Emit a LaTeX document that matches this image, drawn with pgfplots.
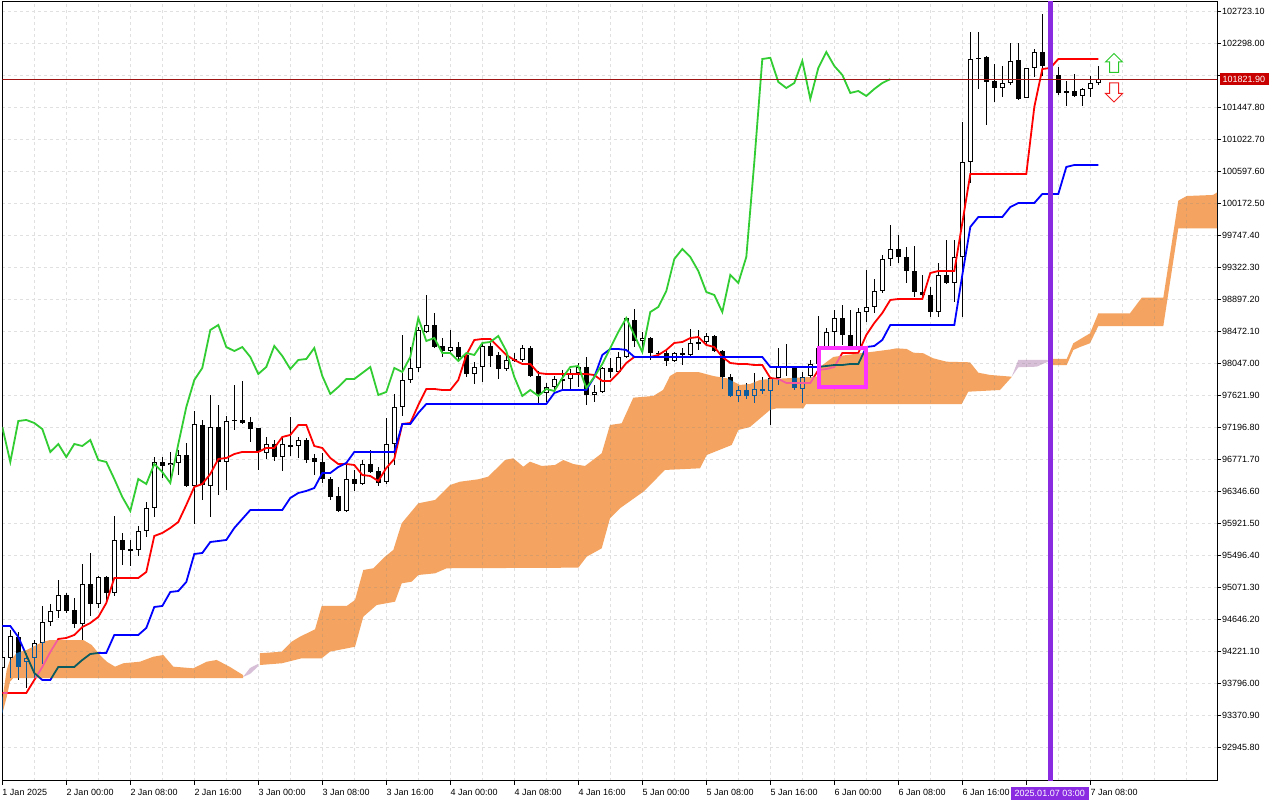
\documentclass[border=0pt]{standalone}
\usepackage{fontspec}
\setmainfont{Liberation Sans}
\usepackage{pgfplots}
\pgfplotsset{compat=1.18}
\usepackage{pgfplotstable}

\definecolor{tenkan}{RGB}{255,0,0}
\definecolor{kijun}{RGB}{0,0,255}
\definecolor{chikou}{RGB}{50,205,50}
\definecolor{cloudA}{RGB}{11,91,159}
\definecolor{cloudB}{RGB}{39,64,39}
\definecolor{mfuchsia}{RGB}{255,51,255}
\definecolor{vline}{RGB}{138,43,226}
\definecolor{gridc}{RGB}{224,224,224}
\definecolor{pricebox}{RGB}{200,0,0}
\definecolor{pricel}{RGB}{160,20,20}
\definecolor{arrowg}{RGB}{40,200,40}
\definecolor{arrowr}{RGB}{240,30,30}

% H1 candles, i = bar index (0 = 1 Jan 2025 16:00)
\pgfplotstableread{
i o h l c
0 93999 94238 93946 94145
1 94132 94504 93866 94424
2 94411 94478 93840 94013
3 94079 94199 93734 94132
4 94132 94371 93866 94331
5 94331 94823 94052 94610
6 94610 94849 94557 94756
7 94756 95168 94664 94969
8 94969 94996 94730 94756
9 94770 94929 94531 94584
10 94584 95381 94371 95115
11 95115 95527 94690 94849
12 94849 95221 94796 95208
13 95208 95221 94903 94996
14 94996 96019 94956 95700
15 95700 95793 95368 95567
16 95580 95700 95354 95567
17 95567 95886 95487 95819
18 95819 96204 95740 96125
19 96125 96802 96005 96736
20 96736 96802 96523 96683
21 96696 96869 96444 96723
22 96723 96895 96563 96829
23 96829 96988 96404 96417
24 96417 97413 95912 97241
25 97227 97294 96231 96430
26 96417 97626 96005 97201
27 97201 97493 96297 96736
28 96736 97347 96364 97280
29 97280 97759 97161 97294
30 97294 97812 97241 97254
31 97267 97334 97001 97174
32 97187 97190 96630 96869
33 96855 97068 96776 96975
34 96975 97028 96749 96802
35 96802 97055 96616 96975
36 96962 97334 96816 96948
37 96948 97068 96789 97028
38 97028 97055 96723 96762
39 96789 96842 96563 96736
40 96736 96855 96457 96510
41 96510 96537 96231 96271
42 96284 96404 96072 96085
43 96085 96696 96072 96510
44 96510 96630 96351 96444
45 96444 96762 96430 96709
46 96709 96895 96590 96603
47 96616 96669 96417 96457
48 96470 97320 96444 96975
49 96975 97639 96696 97466
50 97466 98423 97347 97825
51 97825 98263 97785 97985
52 97985 98529 97931 98489
53 98463 98954 98449 98556
54 98556 98715 98250 98263
55 98277 98383 98131 98210
56 98210 98489 98197 98263
57 98263 98330 98091 98131
58 98157 98197 97865 97905
59 97905 98064 97772 97998
60 97998 98317 97799 98277
61 98277 98330 97998 98144
62 98157 98197 97838 97971
63 97971 98184 97945 98091
64 98091 98184 98064 98104
65 98091 98290 98064 98250
66 98250 98277 97865 97878
67 97878 97945 97520 97639
68 97652 97785 97533 97732
69 97732 97878 97692 97838
70 97825 97958 97706 97838
71 97838 97971 97692 97918
72 97918 98051 97732 97998
73 97998 98131 97493 97626
74 97626 97759 97533 97666
75 97666 97998 97652 97985
76 97985 98117 97852 97931
77 97931 98197 97905 98131
78 98131 98662 98117 98649
79 98622 98768 98263 98343
80 98343 98463 98250 98383
81 98383 98396 98091 98184
82 98184 98210 98157 98184
83 98184 98224 98011 98078
84 98078 98197 98064 98184
85 98184 98250 98024 98157
86 98157 98503 98144 98317
87 98317 98489 98224 98330
88 98330 98449 98303 98410
89 98410 98423 98197 98210
90 98210 98224 97706 97865
91 97865 97905 97599 97613
92 97613 97745 97533 97692
93 97692 97785 97573 97613
94 97613 97918 97520 97706
95 97706 97865 97639 97679
96 97679 97865 97227 97852
97 97852 98250 97759 97998
98 97998 98303 97878 98011
99 97985 98011 97692 97719
100 97706 97931 97520 97865
101 97878 98091 97852 98038
102 98038 98675 97719 98250
103 98250 98516 98197 98463
104 98463 98755 98263 98649
105 98649 98821 98290 98423
106 98423 98755 98144 98197
107 98197 98782 97865 98728
108 98728 99286 98596 98795
109 98795 99167 98715 99007
110 99007 99486 98981 99432
111 99432 99884 99340 99565
112 99565 99751 99379 99459
113 99459 99592 99114 99273
114 99273 99605 98928 98994
115 98994 99220 98914 98954
116 98954 99061 98662 98728
117 98728 99379 98662 99220
118 99220 99685 99100 99114
119 99114 99685 98861 99459
120 99459 101252 98662 100721
121 100721 102448 100442 102089
122 102100 102448 101691 102105
123 102116 102129 101212 101784
124 101797 102023 101518 101704
125 101704 101996 101584 101770
126 101770 102302 101744 102063
127 102076 102302 101545 101558
128 101571 101975 101565 101970
129 101970 102222 101850 102182
130 102182 102687 101863 101996
131 101996 102142 101837 101877
132 101877 101983 101611 101638
133 101638 101797 101465 101664
134 101664 101890 101584 101598
135 101598 101704 101465 101691
136 101691 101863 101584 101770
137 101770 101996 101744 101821.9
}\candles

% Tenkan-sen (t) and Kijun-sen (k)
\pgfplotstableread{
i t k
0 93667 94557
1 93667 94557
2 93667 94411
3 93667 94172
4 93840 93933
5 94013 93840
6 94212 93840
7 94385 94013
8 94398 94013
9 94438 94013
10 94544 94106
11 94597 94185
12 94677 94199
13 94863 94199
14 95195 94438
15 95195 94438
16 95195 94438
17 95195 94438
18 95275 94531
19 95753 94810
20 95793 94823
21 95859 95009
22 95939 95022
23 96165 95142
24 96404 95514
25 96444 95527
26 96576 95673
27 96776 95686
28 96789 95700
29 96842 95859
30 96869 95979
31 96869 96098
32 96869 96098
33 96922 96098
34 96922 96098
35 97068 96098
36 97095 96258
37 97227 96324
38 97227 96351
39 96948 96390
40 96922 96590
41 96789 96590
42 96709 96669
43 96709 96723
44 96696 96869
45 96563 96869
46 96550 96869
47 96483 96869
48 96656 96869
49 96776 96869
50 97241 97241
51 97254 97241
52 97493 97387
53 97706 97506
54 97706 97506
55 97692 97506
56 97692 97506
57 97825 97506
58 98157 97506
59 98356 97506
60 98370 97506
61 98370 97506
62 98263 97506
63 98157 97506
64 98091 97506
65 98038 97506
66 98038 97506
67 97918 97506
68 97905 97506
69 97905 97652
70 97905 97692
71 97905 97692
72 97905 97692
73 97905 97692
74 97891 97865
75 97812 98157
76 97812 98237
77 97918 98237
78 98051 98224
79 98131 98131
80 98131 98131
81 98131 98131
82 98157 98131
83 98224 98131
84 98317 98131
85 98330 98131
86 98383 98131
87 98396 98131
88 98290 98131
89 98263 98131
90 98131 98131
91 98051 98131
92 98038 98131
93 98038 98131
94 98024 98131
95 98024 98131
96 97852 97998
97 97838 97998
98 97785 97998
99 97785 97998
100 97785 97998
101 97785 97998
102 97958 97998
103 97971 98011
104 97998 98024
105 98184 98024
106 98184 98038
107 98184 98038
108 98423 98263
109 98582 98277
110 98715 98357
111 98888 98556
112 98901 98556
113 98901 98556
114 98901 98556
115 98901 98556
116 99246 98556
117 99273 98556
118 99273 98556
119 99273 98556
120 99911 99220
121 100562 99858
122 100562 99990
123 100562 99990
124 100562 99990
125 100562 99990
126 100562 100123
127 100562 100176
128 100562 100176
129 101452 100176
130 101956 100296
131 101970 100296
132 102089 100296
133 102089 100655
134 102089 100681
135 102089 100681
136 102089 100681
137 102089 100681
}\lines

\begin{document}
\begin{tikzpicture}
\useasboundingbox (0,0) rectangle (1280pt,800pt);
\fill[white] (0,0) rectangle (1280pt,800pt);
\begin{axis}[
  at={(2.3pt,19pt)}, anchor=south west,
  scale only axis, width=1214.7pt, height=779pt,
  xmin=0, xmax=151.8375,
  ymin=92498.2, ymax=102846.4,
  enlargelimits=false,
  axis line style={black, line width=1pt},
  tick align=outside,
  major tick length=4pt,
  minor tick length=0pt,
  major tick style={black, line width=1pt},
  xtick pos=left, ytick pos=right,
  yticklabel pos=right,
  xtick={0,8,...,136},
  xticklabels={1 Jan 2025,2 Jan 00:00,2 Jan 08:00,2 Jan 16:00,3 Jan 00:00,3 Jan 08:00,3 Jan 16:00,4 Jan 00:00,4 Jan 08:00,4 Jan 16:00,5 Jan 00:00,5 Jan 08:00,5 Jan 16:00,6 Jan 00:00,6 Jan 08:00,6 Jan 16:00,{},7 Jan 08:00},
  minor xtick={4,12,...,148,144},
  ytick={92945.8,93370.9,93796.0,94221.1,94646.2,95071.3,95496.4,95921.5,96346.6,96771.7,97196.8,97621.9,98047.0,98472.1,98897.2,99322.3,99747.4,100172.5,100597.6,101022.7,101447.8,101872.9,102298.0,102723.1},
  yticklabels={92945.80,93370.90,93796.00,94221.10,94646.20,95071.30,95496.40,95921.50,96346.60,96771.70,97196.80,97621.90,98047.00,98472.10,98897.20,99322.30,99747.40,100172.50,100597.60,101022.70,101447.80,{},102298.00,102723.10},
  tick label style={font=\fontsize{9}{10}\selectfont, black},
  xticklabel style={anchor=north west, inner sep=0pt, yshift=-4pt},
  yticklabel style={anchor=west, inner sep=0pt, xshift=1pt},
  grid=both,
  major grid style={gridc, line width=1pt, dash pattern=on 3pt off 3pt},
  minor grid style={gridc, line width=1pt, dash pattern=on 3pt off 3pt},
]
% wicks
\addplot[draw=none, mark=none, forget plot,
  error bars/.cd, y dir=both, y explicit, error mark=none,
  error bar style={draw=black, solid, line width=1pt}]
  table[x=i, y expr={(\thisrow{h}+\thisrow{l})/2}, y error expr={(\thisrow{h}-\thisrow{l})/2}] {\candles};
% bodies (outline / bearish fill)
\addplot[draw=none, mark=none, forget plot,
  error bars/.cd, y dir=both, y explicit, error mark=none,
  error bar style={draw=black, solid, line width=5pt}]
  table[x=i, y expr={(\thisrow{o}+\thisrow{c})/2}, y error expr={max(abs(\thisrow{c}-\thisrow{o})/2,6.6)}] {\candles};
% bullish body interior
\addplot[draw=none, mark=none, forget plot,
  error bars/.cd, y dir=both, y explicit, error mark=none,
  error bar style={draw=white, solid, line width=3pt}]
  table[x=i, y expr={(\thisrow{o}+\thisrow{c})/2}, y error expr={max((\thisrow{c}-\thisrow{o})/2-13.3,0)}] {\candles};
% rectangle object (filled background)
\fill[white] (axis cs:102.05,97728) rectangle (axis cs:108,98250);
% Ichimoku lines
\addplot[tenkan, line width=1.8pt, mark=none] table[x=i, y=t] {\lines};
\addplot[kijun, line width=1.8pt, mark=none] table[x=i, y=k] {\lines};
\addplot[chikou, line width=1.8pt, mark=none, skip coords between index={0}{26}] table[x expr=\thisrow{i}-26, y=c] {\candles};
% Kumo (Senkou span A above B: sandy brown; B above A: thistle), drawn XOR-like
\addplot[draw=none, fill=cloudA, blend mode=exclusion] coordinates {
(-0.04,93574) (0.125,93667) (0.55,93973) (0.96,94106) (1.375,94145) (1.8,94199) (3.05,94238) (4.3,94305) (5.125,94349) (5.96,94371) (10.125,94371) (11.175,94305) (12.21,94172) (13.05,94083) (14.09,94017) (15.125,94062) (17.21,94083) (18.875,94149) (20.125,94172) (21.375,94017) (23.875,93995) (25.55,94083) (26.8,94106) (28.46,94013) (30.09,93906)
(30.09,93866) (1.375,93866) (0.96,93817) (0.55,93614) (0.125,93441) (-0.04,93375)
} -- cycle;
\addplot[draw=none, fill=cloudB, blend mode=exclusion] coordinates {
(30.09,93880) (30.96,93999) (31.96,94053) (31.96,94019) (30.96,93920)
} -- cycle;
\addplot[draw=none, fill=cloudA, blend mode=exclusion] coordinates {
(32.21,94195) (34.925,94216) (36.175,94349) (37.21,94415) (39.09,94513) (39.925,94823) (43.05,94823) (44.09,94903) (45.125,95301) (46.375,95324) (47.84,95478) (48.875,95567) (49.925,95922) (52,96187) (54.09,96231) (55.96,96430) (57.21,96474) (59.5,96506) (60.75,96541) (61.8,96652) (62.84,96762) (63.875,96785) (65.125,96673) (65.96,96740) (67.425,96683) (69.09,96696) (70.125,96762) (71.375,96709) (72.84,96683) (74.925,96851) (75.96,97227) (77.425,97250) (78.875,97590) (81.375,97613) (82.59,97692) (83.46,97878) (84.3,97931) (87,97931) (88.875,97878) (90.55,97848) (92.2,97759) (93.46,97772) (94.7,97825) (95.55,97834) (101.8,97869) (102.2,97998) (103.875,98131) (105.55,98157) (107.2,98180) (108.875,98201) (110.96,98230) (111.8,98246) (113.05,98237) (113.875,98188) (115.125,98180) (116.375,98113) (118.05,98068) (120.96,98060) (122,97922) (123.46,97892) (126.175,97869)
(126.175,97865) (124.71,97692) (120.75,97670) (119.925,97506) (100.46,97506) (100.125,97449) (96.8,97449) (95.96,97427) (93.46,97201) (92,97161) (91.175,96962) (88.05,96829) (87.21,96652) (82.84,96630) (80.125,96341) (77.21,96121) (75.96,95988) (74.925,95589) (73.05,95478) (72,95332) (55.55,95324) (54.09,95257) (52,95235) (51.175,95146) (49.925,95124) (49.09,94880) (46.8,94836) (45.125,94681) (44.09,94282) (40.96,94216) (39.925,94128) (37.425,94128) (34.925,94062) (32.21,94039)
} -- cycle;
\addplot[draw=none, fill=cloudB, blend mode=exclusion] coordinates {
(126.175,97869) (127,98091) (130.55,98091) (130.84,98078) (130.425,98055) (129.3,98002) (127,97994)
} -- cycle;
\addplot[draw=none, fill=cloudA, blend mode=exclusion] coordinates {
(130.84,98104) (133.05,98104) (133.875,98313) (134.71,98366) (135.96,98445) (137,98711) (140.96,98711) (142.425,98918) (145.125,98918) (147,100207) (148.05,100269) (151.34,100283) (152,100327)
(152,99840) (147,99840) (145.125,98542) (137,98542) (135.96,98313) (134.71,98263) (133.875,98224) (133.05,98024) (130.84,98024)
} -- cycle;
% rectangle object border
\draw[mfuchsia, line width=4pt] (axis cs:102.05,97728) rectangle (axis cs:108,98250);
% vertical line object at 2025.01.07 03:00
\draw[vline, line width=5.5pt] (axis cs:131,92000) -- (axis cs:131,103500);
% current price line
\draw[pricel, line width=0.8pt] (axis cs:-1,101821.9) -- (axis cs:160,101821.9);
\end{axis}
% price label
\fill[pricebox] (1220pt,715pt) rectangle (1269pt,726.5pt);
\node[white, font=\fontsize{9}{10}\selectfont, anchor=west, inner sep=0pt] at (1222.5pt,720.8pt) {101821.90};
% time label of vertical line
\fill[vline] (1010.5pt,0pt) rectangle (1089pt,13pt);
\node[white, font=\fontsize{9}{10}\selectfont, inner sep=0pt] at (1049.75pt,6.8pt) {2025.01.07 03:00};
% arrows
\draw[arrowg, line width=1pt, fill=white] (1114pt,746.5pt) -- (1105.5pt,738pt) -- (1109.5pt,738pt) -- (1109.5pt,727.5pt) -- (1118.5pt,727.5pt) -- (1118.5pt,738pt) -- (1122.5pt,738pt) -- cycle;
\draw[arrowr, line width=1pt, fill=white] (1114pt,698pt) -- (1105.5pt,706.5pt) -- (1109.5pt,706.5pt) -- (1109.5pt,717pt) -- (1118.5pt,717pt) -- (1118.5pt,706.5pt) -- (1122.5pt,706.5pt) -- cycle;
\end{tikzpicture}
\end{document}
